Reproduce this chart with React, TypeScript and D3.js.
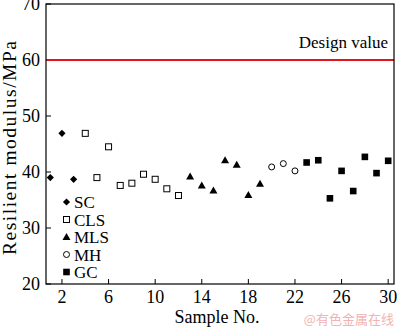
import React from "react";
import * as d3 from "d3";

const samplesSC = [1, 2, 3];
const valuesSC = [39.0, 46.9, 38.7];
const samplesCLS = [4, 5, 6, 7, 8, 9, 10, 11, 12];
const valuesCLS = [46.9, 39.0, 44.5, 37.6, 38.0, 39.6, 38.7, 37.0, 35.8];
const samplesMLS = [13, 14, 15, 16, 17, 18, 19];
const valuesMLS = [39.2, 37.6, 36.7, 42.1, 41.3, 35.9, 37.9];
const samplesMH = [20, 21, 22];
const valuesMH = [40.9, 41.5, 40.2];
const samplesGC = [23, 24, 25, 26, 27, 28, 29, 30];
const valuesGC = [41.7, 42.1, 35.3, 40.2, 36.6, 42.7, 39.8, 42.0];
const xTicks = [2, 6, 10, 14, 18, 22, 26, 30];
const yTicks = [20, 30, 40, 50, 60, 70];
const designValue = 60;
const legendNames = ["SC", "CLS", "MLS", "MH", "GC"];

const W = 400, H = 329;
const left = 46, right = 394, top = 4, bottom = 284;
const font = "'Liberation Serif', 'Times New Roman', serif";

function Marker({ type, x, y }: { type: string; x: number; y: number }) {
  if (type === "SC") {
    const r = 3.6;
    return <path d={`M${x},${y - r}L${x + r},${y}L${x},${y + r}L${x - r},${y}Z`} fill="#000" />;
  }
  if (type === "CLS") return <rect x={x - 3} y={y - 3} width={6} height={6} fill="#fff" stroke="#000" strokeWidth={1} />;
  if (type === "MLS") return <path d={`M${x},${y - 4}L${x + 4},${y + 3}L${x - 4},${y + 3}Z`} fill="#000" />;
  if (type === "MH") return <circle cx={x} cy={y} r={3} fill="#fff" stroke="#000" strokeWidth={1} />;
  return <rect x={x - 3.3} y={y - 3.3} width={6.6} height={6.6} fill="#000" />;
}

export default function App() {
  const x = d3.scaleLinear().domain([0.63, 30.5]).range([left, right]);
  const y = d3.scaleLinear().domain([20, 70]).range([bottom, top]);
  const series = [
    { name: "SC", s: samplesSC, v: valuesSC },
    { name: "CLS", s: samplesCLS, v: valuesCLS },
    { name: "MLS", s: samplesMLS, v: valuesMLS },
    { name: "MH", s: samplesMH, v: valuesMH },
    { name: "GC", s: samplesGC, v: valuesGC },
  ];
  return (
    <svg width={W} height={H} style={{ position: "absolute", left: 0, top: 0, background: "#fff" }} fontFamily={font}>
      <rect x={0} y={0} width={W} height={H} fill="#fff" />
      {xTicks.map((t) => (
        <g key={"x" + t}>
          <line x1={x(t)} x2={x(t)} y1={bottom} y2={bottom - 5} stroke="#000" strokeWidth={1} />
          <text x={x(t)} y={303} fontSize={18} textAnchor="middle">{t}</text>
        </g>
      ))}
      {yTicks.map((t) => (
        <g key={"y" + t}>
          <line x1={left} x2={left + 5} y1={y(t)} y2={y(t)} stroke="#000" strokeWidth={1} />
          <text x={40} y={y(t) + 6} fontSize={18} textAnchor="end">{t}</text>
        </g>
      ))}
      <line x1={left} x2={right} y1={y(designValue)} y2={y(designValue)} stroke="#e0141e" strokeWidth={2} />
      <text x={388} y={48} fontSize={17} textAnchor="end">Design value</text>
      {series.map((se) =>
        se.s.map((s, i) => <Marker key={se.name + s} type={se.name} x={x(s)} y={y(se.v[i])} />)
      )}
      {legendNames.map((n, i) => (
        <g key={"l" + n}>
          <Marker type={n} x={66.5} y={202 + i * 17.5} />
          <text x={74} y={202 + i * 17.5 + 6} fontSize={17}>{n}</text>
        </g>
      ))}
      <rect x={left} y={top} width={right - left} height={bottom - top} fill="none" stroke="#000" strokeWidth={1.2} />
      <text x={217} y={323} fontSize={18} textAnchor="middle">Sample No.</text>
      <text transform={`translate(16,148) rotate(-90)`} fontSize={19.5} textAnchor="middle" textLength={214} lengthAdjust="spacing">Resilient modulus/MPa</text>
      <text x={394} y={324} fontSize={13} textAnchor="end" fill="#f2b3b3" fontFamily="'Noto Sans CJK SC', sans-serif">@有色金属在线</text>
    </svg>
  );
}
